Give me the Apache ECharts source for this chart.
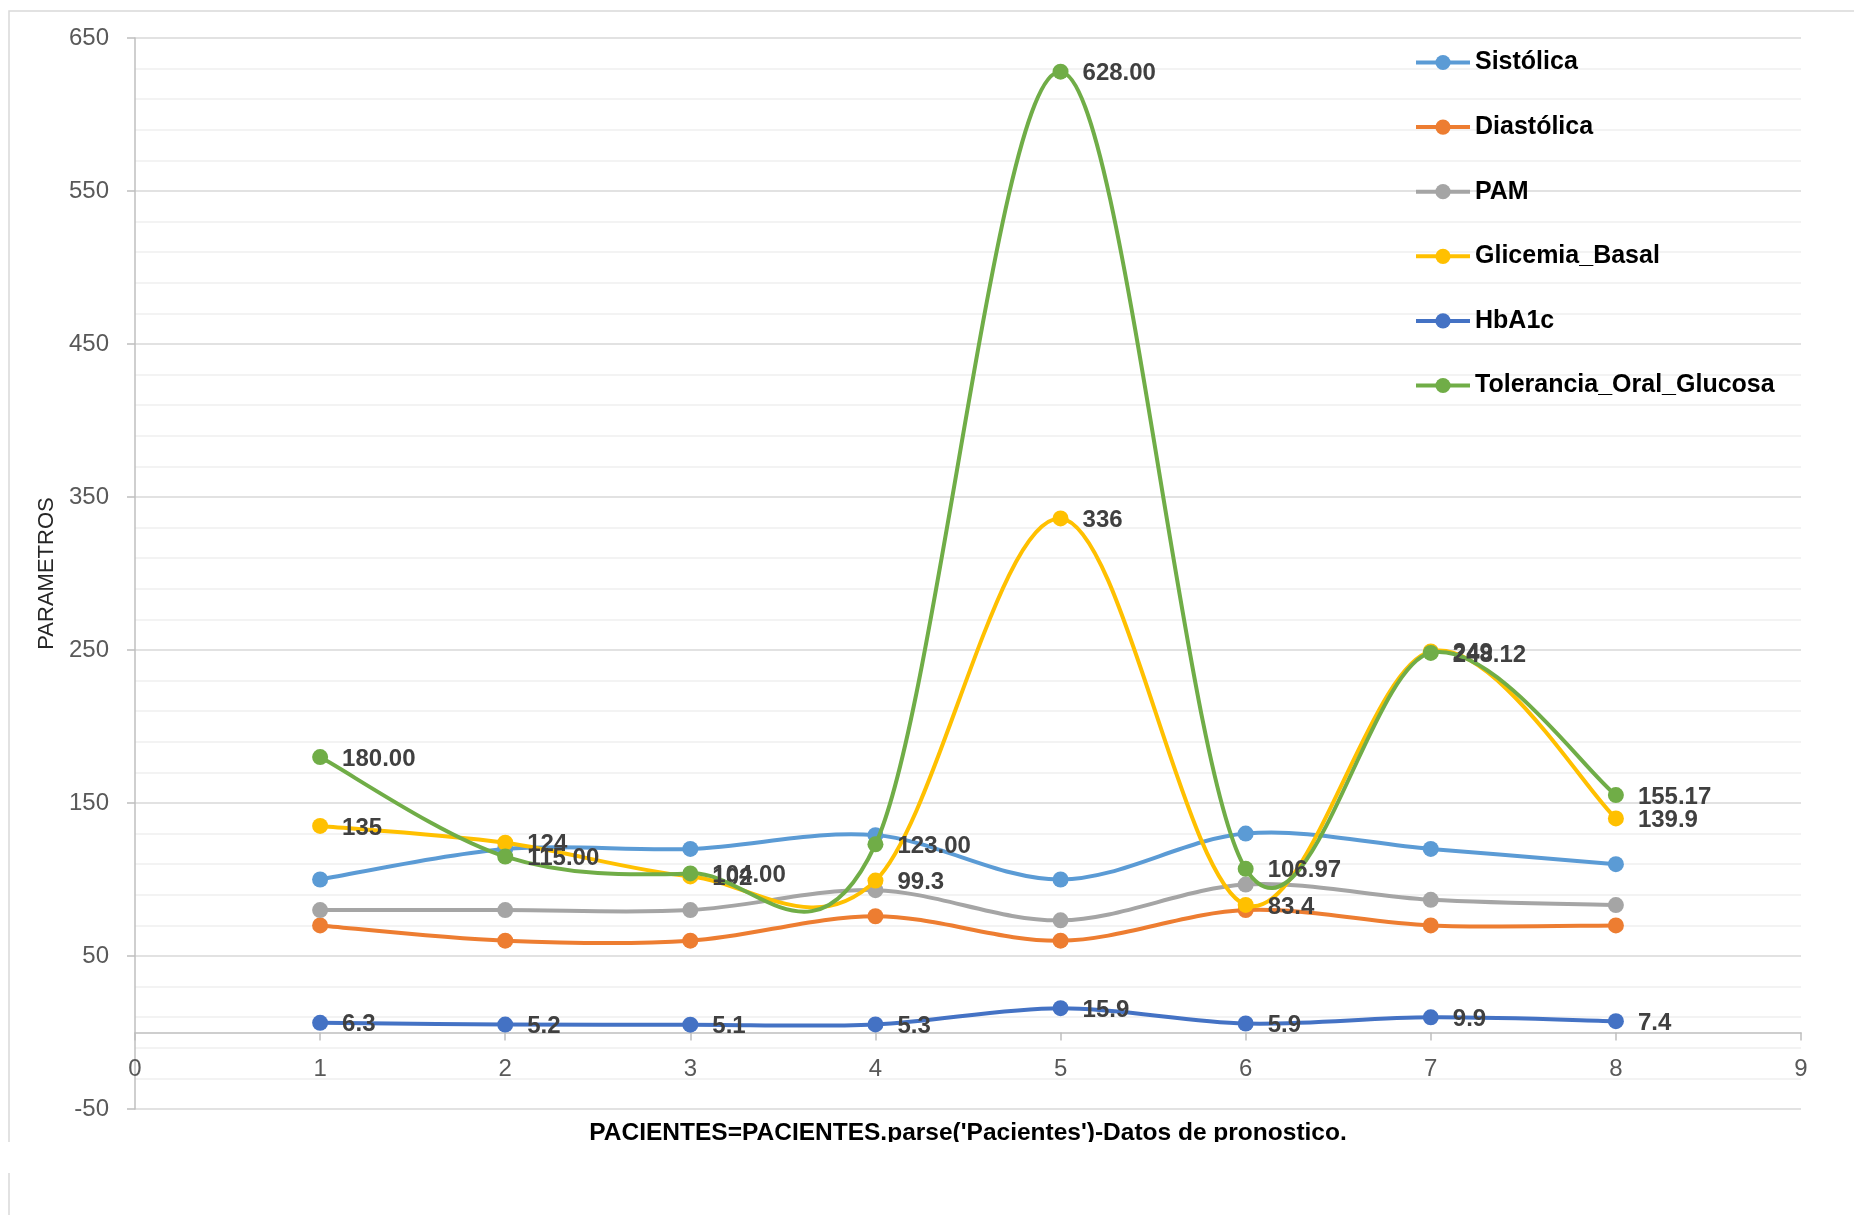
<!DOCTYPE html>
<html>
<head>
<meta charset="utf-8">
<title>Parámetros por paciente</title>
<script src="https://cdn.jsdelivr.net/npm/echarts@6/dist/echarts.min.js"></script>
<style>
  html, body { margin: 0; padding: 0; background: #ffffff; }
  #chart { width: 1854px; height: 1215px; }
</style>
</head>
<body>
<div id="chart"></div>
<script>
// Patient numbers on the x axis
const pacientes = [1, 2, 3, 4, 5, 6, 7, 8];

// Measured parameters per patient
const sistolica = [100, 120, 120, 129, 100, 130, 120, 110];
const diastolica = [70, 60, 60, 76, 60, 80, 70, 70];
const pam = [80, 80, 80, 93, 73.3, 96.7, 86.7, 83.3];
const glicemiaBasal = [135, 124, 102, 99.3, 336, 83.4, 249, 139.9];
const hba1c = [6.3, 5.2, 5.1, 5.3, 15.9, 5.9, 9.9, 7.4];
const toleranciaOralGlucosa = [180, 115, 104, 123, 628, 106.97, 248.12, 155.17];

// Value axis range and step
const yMin = -50;
const yMax = 650;
const yStep = 100;

const FONT = '"Liberation Sans", Arial, sans-serif';
const LINE_WIDTH = 4;

// name, values, colour, whether points carry labels, label formatter
const seriesDefs = [
  { name: 'Sistólica', values: sistolica, color: '#5B9BD5', label: false },
  { name: 'Diastólica', values: diastolica, color: '#ED7D31', label: false },
  { name: 'PAM', values: pam, color: '#A5A5A5', label: false },
  { name: 'Glicemia_Basal', values: glicemiaBasal, color: '#FFC000', label: true, fmt: v => String(v) },
  { name: 'HbA1c', values: hba1c, color: '#4472C4', label: true, fmt: v => String(v) },
  { name: 'Tolerancia_Oral_Glucosa', values: toleranciaOralGlucosa, color: '#70AD47', label: true, fmt: v => v.toFixed(2) }
];

// Smoothed curve through the points: each segment is a cubic Bezier whose
// control points follow the Catmull-Rom tangents (one sixth of the chord
// between the neighbouring points).
function curveSeries(def, z) {
  const n = pacientes.length;
  return {
    type: 'custom',
    name: def.name + ' (curva)',
    silent: true,
    z: z,
    encode: { x: 0, y: 1 },
    data: pacientes.map((x, i) => [x, def.values[i]]),
    renderItem: function (params, api) {
      const i = params.dataIndex;
      if (i >= n - 1) return null;
      const pt = k => api.coord([pacientes[k], def.values[k]]);
      const p0 = pt(Math.max(i - 1, 0));
      const p1 = pt(i);
      const p2 = pt(i + 1);
      const p3 = pt(Math.min(i + 2, n - 1));
      const t = 1 / 6;
      return {
        type: 'bezierCurve',
        shape: {
          x1: p1[0], y1: p1[1],
          x2: p2[0], y2: p2[1],
          cpx1: p1[0] + (p2[0] - p0[0]) * t,
          cpy1: p1[1] + (p2[1] - p0[1]) * t,
          cpx2: p2[0] - (p3[0] - p1[0]) * t,
          cpy2: p2[1] - (p3[1] - p1[1]) * t
        },
        style: { stroke: def.color, lineWidth: LINE_WIDTH, fill: null, lineCap: 'round' }
      };
    }
  };
}

function pointSeries(def, z) {
  return {
    type: 'line',
    name: def.name,
    z: z,
    data: pacientes.map((x, i) => [x, def.values[i]]),
    color: def.color,
    symbol: 'circle',
    symbolSize: 16,
    showSymbol: true,
    lineStyle: { width: LINE_WIDTH, opacity: 0 },
    itemStyle: { color: def.color },
    label: def.label ? {
      show: true,
      position: 'right',
      distance: 14,
      offset: [0, 2],
      fontFamily: FONT,
      fontSize: 24,
      fontWeight: 'bold',
      color: '#404040',
      formatter: p => def.fmt(p.value[1])
    } : { show: false },
    emphasis: { disabled: true }
  };
}

const series = [];
seriesDefs.forEach((def, k) => {
  series.push(curveSeries(def, 2 + k * 2));
  series.push(pointSeries(def, 3 + k * 2));
});

const GRID = { left: 135, right: 53, top: 38, bottom: 106 };
// the patient axis sits on the value 0 line
const plotHeight = 1215 - GRID.top - GRID.bottom;
const zeroOffset = -plotHeight * (0 - yMin) / (yMax - yMin);

const option = {
  backgroundColor: '#ffffff',
  animation: false,
  textStyle: { fontFamily: FONT },
  grid: Object.assign({ containLabel: false, outerBoundsMode: 'none' }, GRID),
  legend: {
    data: seriesDefs.map(d => d.name),
    orient: 'vertical',
    left: 1409,
    top: 45,
    itemWidth: 54,
    itemHeight: 19,
    itemGap: 39.6,
    selectedMode: false,
    lineStyle: { width: LINE_WIDTH, opacity: 1 },
    textStyle: { fontFamily: FONT, fontSize: 25, fontWeight: 'bold', color: '#000000' }
  },
  xAxis: {
    type: 'value',
    min: 0,
    max: 9,
    interval: 1,
    offset: zeroOffset,
    name: "PACIENTES=PACIENTES.parse('Pacientes')-Datos de pronostico.",
    nameLocation: 'middle',
    nameGap: 88,
    nameTextStyle: { fontFamily: FONT, fontSize: 24.5, fontWeight: 'bold', color: '#000000' },
    axisLine: { onZero: false, lineStyle: { color: '#bfbfbf', width: 1.5 } },
    axisTick: { show: true, length: 8, lineStyle: { color: '#bfbfbf', width: 1.5 } },
    axisLabel: { fontFamily: FONT, fontSize: 24, color: '#595959', margin: 25 },
    splitLine: { show: false }
  },
  yAxis: {
    type: 'value',
    min: yMin,
    max: yMax,
    interval: yStep,
    name: 'PARAMETROS',
    nameLocation: 'middle',
    nameGap: 77,
    nameTextStyle: { fontFamily: FONT, fontSize: 22, color: '#262626' },
    axisLine: { show: true, lineStyle: { color: '#bfbfbf', width: 1.5 } },
    axisTick: { show: true, length: 8, lineStyle: { color: '#bfbfbf', width: 1.5 } },
    axisLabel: { fontFamily: FONT, fontSize: 24, color: '#595959', margin: 26 },
    splitLine: { show: true, lineStyle: { color: '#d9d9d9', width: 1.5 } },
    minorTick: { show: false, splitNumber: 5 },
    minorSplitLine: { show: true, lineStyle: { color: '#f0f0f0', width: 1.5 } }
  },
  graphic: [
    {
      type: 'rect',
      z: 0,
      silent: true,
      shape: { x: 9, y: 11, width: 2000, height: 2000 },
      style: { fill: null, stroke: '#d9d9d9', lineWidth: 1.5 }
    },
    {
      type: 'rect',
      z: 100,
      silent: true,
      shape: { x: 0, y: 1142, width: 1854, height: 31 },
      style: { fill: '#ffffff' }
    }
  ],
  series: series
};

const chart = echarts.init(document.getElementById('chart'), null, { renderer: 'canvas' });
chart.setOption(option);
</script>
</body>
</html>
